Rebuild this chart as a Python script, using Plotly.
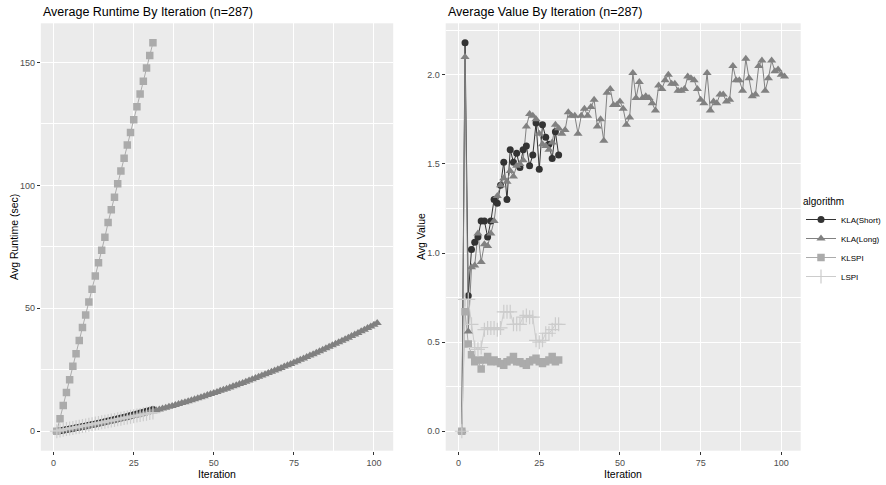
import plotly.graph_objects as go

# ---------------- data ----------------
algorithms = ["KLA(Short)", "KLA(Long)", "KLSPI", "LSPI"]
colors = {"KLA(Short)": "#333333", "KLA(Long)": "#818181", "KLSPI": "#ABABAB", "LSPI": "#CCCCCC"}
symbols = {"KLA(Short)": "circle", "KLA(Long)": "triangle-up", "KLSPI": "square", "LSPI": "cross-thin"}
msizes = {"KLA(Short)": 7, "KLA(Long)": 8, "KLSPI": 7.5, "LSPI": 10}

iter_short = list(range(1, 32))
iter_long = list(range(1, 102))

runtime_kla_short = [0, 0.22, 0.45, 0.68, 0.92, 1.16, 1.41, 1.66, 1.92, 2.18, 2.45, 2.72, 3.00, 3.28,
                     3.57, 3.86, 4.16, 4.46, 4.77, 5.08, 5.40, 5.72, 6.05, 6.38, 6.72, 7.06, 7.41,
                     7.76, 8.12, 8.48, 8.85]
runtime_kla_long = [0.00, 0.20, 0.41, 0.62, 0.84, 1.06, 1.29, 1.52, 1.75, 1.99, 2.24, 2.49, 2.75, 3.01,
                    3.27, 3.54, 3.81, 4.09, 4.38, 4.67, 4.96, 5.26, 5.56, 5.87, 6.18, 6.50, 6.82, 7.15,
                    7.48, 7.82, 8.16, 8.51, 8.86, 9.21, 9.57, 9.94, 10.31, 10.69, 11.07, 11.45, 11.84,
                    12.23, 12.63, 13.04, 13.45, 13.86, 14.28, 14.70, 15.13, 15.56, 16.00, 16.44, 16.89,
                    17.34, 17.80, 18.26, 18.73, 19.20, 19.67, 20.15, 20.64, 21.13, 21.63, 22.13, 22.63,
                    23.14, 23.65, 24.17, 24.70, 25.23, 25.76, 26.30, 26.84, 27.39, 27.94, 28.50, 29.06,
                    29.63, 30.20, 30.78, 31.36, 31.95, 32.54, 33.13, 33.73, 34.34, 34.95, 35.57, 36.19,
                    36.81, 37.44, 38.07, 38.71, 39.36, 40.01, 40.66, 41.32, 41.98, 42.65, 43.32, 44.00]
runtime_klspi = [0, 5.1, 10.5, 15.8, 21.0, 26.4, 31.5, 36.9, 42.2, 47.3, 52.6, 57.8, 63.1, 68.5, 73.6,
                 78.9, 84.9, 90.1, 95.2, 100.7, 105.8, 111.0, 116.4, 121.5, 126.7, 132.0, 137.1, 142.3,
                 147.7, 152.8, 158.0]
runtime_lspi = [0, 0.35, 0.62, 0.88, 1.12, 1.38, 1.62, 1.88, 2.12, 2.38, 2.62, 2.88, 3.12, 3.38, 3.62,
                3.88, 4.12, 4.38, 4.62, 4.88, 5.12, 5.38, 5.62, 5.88, 6.12, 6.38, 6.62, 6.88, 7.12,
                7.38, 7.62]

value_kla_short = [0.00, 2.18, 0.76, 1.02, 1.06, 1.09, 1.18, 1.18, 1.09, 1.18, 1.30, 1.28, 1.38, 1.51,
                   1.30, 1.58, 1.51, 1.56, 1.48, 1.58, 1.60, 1.49, 1.55, 1.73, 1.47, 1.72, 1.65, 1.61,
                   1.53, 1.68, 1.55]
value_kla_long = [0.00, 2.10, 0.56, 0.92, 0.93, 1.11, 0.95, 1.05, 1.04, 1.11, 1.18, 1.32, 1.38, 1.42,
                  1.40, 1.46, 1.43, 1.49, 1.50, 1.52, 1.71, 1.78, 1.77, 1.75, 1.67, 1.61, 1.60, 1.58,
                  1.62, 1.72, 1.70, 1.67, 1.69, 1.79, 1.77, 1.77, 1.67, 1.77, 1.81, 1.77, 1.82, 1.86,
                  1.71, 1.75, 1.63, 1.90, 1.92, 1.83, 1.83, 1.85, 1.81, 1.72, 1.76, 2.01, 1.87, 1.96,
                  1.87, 1.88, 1.87, 1.84, 1.80, 1.94, 1.92, 1.97, 2.00, 1.95, 1.95, 1.91, 1.91, 1.92,
                  1.99, 1.98, 1.97, 1.92, 1.86, 1.84, 2.01, 1.80, 1.85, 1.84, 1.89, 1.89, 1.85, 1.86,
                  2.05, 1.97, 1.97, 1.91, 2.09, 1.98, 1.88, 1.89, 2.05, 2.08, 1.91, 1.98, 2.08, 2.02,
                  2.03, 2.00, 1.99]
value_klspi = [0.00, 0.67, 0.49, 0.43, 0.39, 0.40, 0.35, 0.40, 0.42, 0.39, 0.40, 0.39, 0.38, 0.37,
               0.39, 0.40, 0.42, 0.39, 0.39, 0.38, 0.37, 0.39, 0.40, 0.41, 0.39, 0.38, 0.39, 0.40,
               0.42, 0.39, 0.40]
value_lspi = [0.00, 0.74, 0.74, 0.60, 0.47, 0.46, 0.47, 0.57, 0.58, 0.58, 0.58, 0.57, 0.58, 0.67,
              0.67, 0.67, 0.60, 0.60, 0.60, 0.64, 0.65, 0.64, 0.64, 0.51, 0.50, 0.51, 0.55, 0.55,
              0.57, 0.60, 0.60]

runtime = {"KLA(Short)": (iter_short, runtime_kla_short), "KLA(Long)": (iter_long, runtime_kla_long),
           "KLSPI": (iter_short, runtime_klspi), "LSPI": (iter_short, runtime_lspi)}
value = {"KLA(Short)": (iter_short, value_kla_short), "KLA(Long)": (iter_long, value_kla_long),
         "KLSPI": (iter_short, value_klspi), "LSPI": (iter_short, value_lspi)}

x_ticks = [0, 25, 50, 75, 100]

# ---------------- figure ----------------
W, H = 886, 485


def px(x):
    return x / W


def py(y):
    return 1 - y / H


FONT = "Liberation Sans, Arial, sans-serif"
fig = go.Figure()


def marker_for(a):
    m = dict(symbol=symbols[a], size=msizes[a], color=colors[a])
    if a == "LSPI":
        m["line"] = dict(color=colors[a], width=1.2)
    return m


for data, xa, ya in [(runtime, "x", "y"), (value, "x2", "y2")]:
    for a in algorithms:
        xs, ys = data[a]
        fig.add_trace(go.Scatter(x=xs, y=ys, mode="lines", xaxis=xa, yaxis=ya,
                                 line=dict(color=colors[a], width=1), showlegend=False, hoverinfo="skip"))
    for a in algorithms:
        xs, ys = data[a]
        fig.add_trace(go.Scatter(x=xs, y=ys, mode="markers", xaxis=xa, yaxis=ya,
                                 marker=marker_for(a), showlegend=False, name=a))

# legend-only entries
for a in algorithms:
    fig.add_trace(go.Scatter(x=[None], y=[None], mode="lines+markers", name=a, xaxis="x2", yaxis="y2",
                             line=dict(color=colors[a], width=1), marker=marker_for(a)))

ydom = [py(450.7), py(23.3)]
common_x = dict(range=[-4, 106], tickmode="array", tickvals=x_ticks, ticks="outside", ticklen=3,
                tickcolor="#333333", tickwidth=1, showgrid=True, gridcolor="white", gridwidth=1,
                zeroline=False, showline=False, tickfont=dict(size=9, color="#4D4D4D", family=FONT),
                minor=dict(dtick=12.5, tick0=0, showgrid=True, gridcolor="white", gridwidth=0.5, ticks=""))
common_y = dict(ticks="outside", ticklen=3, tickcolor="#333333", tickwidth=1, showgrid=True,
                gridcolor="white", gridwidth=1, zeroline=False, showline=False,
                tickfont=dict(size=9, color="#4D4D4D", family=FONT))

fig.update_layout(
    width=W, height=H, margin=dict(l=0, r=0, t=0, b=0),
    paper_bgcolor="white", plot_bgcolor="#EBEBEB",
    font=dict(family=FONT, color="black"),
    xaxis=dict(domain=[px(41), px(395)], anchor="y", **common_x),
    yaxis=dict(domain=ydom, anchor="x", range=[-7.9, 165.9], tickvals=[0, 50, 100, 150],
               minor=dict(dtick=25, tick0=0, showgrid=True, gridcolor="white", gridwidth=0.5, ticks=""),
               **common_y),
    xaxis2=dict(domain=[px(447.7), px(804.3)], anchor="y2", **common_x),
    yaxis2=dict(domain=ydom, anchor="x2", range=[-0.109, 2.289], tickvals=[0, 0.5, 1.0, 1.5, 2.0],
                tickformat=".1f",
                minor=dict(dtick=0.25, tick0=0, showgrid=True, gridcolor="white", gridwidth=0.5, ticks=""),
                **common_y),
    legend=dict(x=px(805), y=py(192), xanchor="left", yanchor="top",
                title=dict(text="algorithm", font=dict(size=10, color="black", family=FONT)),
                font=dict(size=8, color="black", family=FONT), bgcolor="rgba(0,0,0,0)",
                itemwidth=30, tracegroupgap=0),
    showlegend=True,
)

annotations = [
    dict(text="Average Runtime By Iteration (n=287)", x=px(41), y=py(12), xanchor="left",
         yanchor="middle", font=dict(size=12.5, color="black", family=FONT)),
    dict(text="Average Value By Iteration (n=287)", x=px(447.7), y=py(12), xanchor="left",
         yanchor="middle", font=dict(size=12.5, color="black", family=FONT)),
    dict(text="Iteration", x=px(218), y=py(474), xanchor="center", yanchor="middle",
         font=dict(size=10.5, color="black", family=FONT)),
    dict(text="Iteration", x=px(626), y=py(474), xanchor="center", yanchor="middle",
         font=dict(size=10.5, color="black", family=FONT)),
    dict(text="Avg Runtime (sec)", x=px(14), y=py(237), xanchor="center", yanchor="middle",
         textangle=-90, font=dict(size=10.5, color="black", family=FONT)),
    dict(text="Avg Value", x=px(423), y=py(237), xanchor="center", yanchor="middle",
         textangle=-90, font=dict(size=10.5, color="black", family=FONT)),
]
for a_ in annotations:
    a_.update(xref="paper", yref="paper", showarrow=False)
fig.update_layout(annotations=annotations)

# remove the browser's default 8px body margin so the figure sits at the window's origin
fig.write_html("out.html", config={"displayModeBar": False},
               post_script="document.body.style.margin='0';")
